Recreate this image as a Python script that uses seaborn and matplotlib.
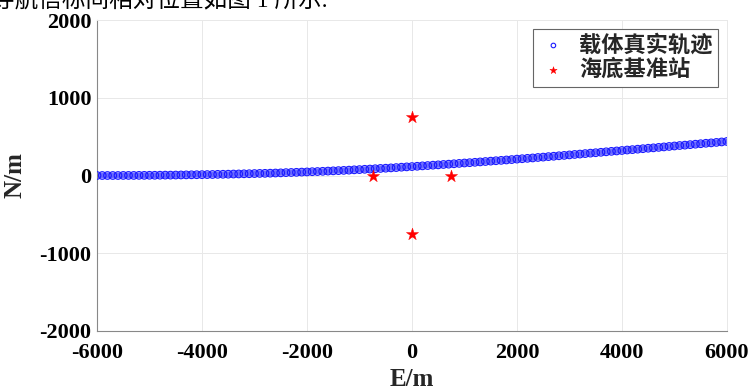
import numpy as np
import pandas as pd
import matplotlib
matplotlib.use("Agg")
import matplotlib.pyplot as plt
import seaborn as sns

# ----------------------------------------------------------
# Données
# ----------------------------------------------------------

# trajectoire : E de -6000 à 6000 m, pas de 100 m
traj_e = list(range(-6000, 6001, 100))
traj_n = [
    0, 0, 0, 0, 0, 1, 1, 1, 2, 2, 3, 3, 4, 5, 5, 6, 7, 8, 9, 10,
    11, 12, 13, 15, 16, 17, 19, 20, 22, 23, 25,
    27, 28, 30, 32, 34, 37, 39, 41, 44, 46, 49, 51, 54, 57, 60,
    63, 66, 69, 73, 76, 80, 83, 87, 91, 94, 98, 102, 107, 111, 115,
    119, 124, 128, 133, 137, 142, 146, 151, 156, 161, 165, 170, 175, 180, 185,
    190, 195, 200, 205, 211, 216, 221, 226, 232, 237, 243, 248, 254, 259, 265,
    271, 276, 282, 288, 293, 299, 305, 311, 316, 322, 328, 333, 339, 345, 351,
    356, 362, 368, 374, 380, 386, 391, 397, 403, 409, 415, 420, 426, 432, 438,
]

# stations de référence
station_e = [-750, 750, 0, 0]
station_n = [0, 0, 750, -750]

x_ticks = [-6000, -4000, -2000, 0, 2000, 4000, 6000]
y_ticks = [-2000, -1000, 0, 1000, 2000]

traj = pd.DataFrame({"E": traj_e, "N": traj_n})
stations = pd.DataFrame({"E": station_e, "N": station_n})

# ----------------------------------------------------------
# Figure
# ----------------------------------------------------------

sns.set_theme(style="whitegrid")
plt.rcParams["font.family"] = ["Liberation Serif", "Noto Sans CJK SC", "DejaVu Sans"]
plt.rcParams["axes.unicode_minus"] = False

fig = plt.figure(figsize=(7.49, 3.87), dpi=100)
ax = fig.add_axes([0.1295, 0.145, 0.841, 0.803])

# bande dense des cercles (points très rapprochés dans l'original)
sns.lineplot(data=traj, x="E", y="N", ax=ax, color="#3a3aff", linewidth=4.2,
             alpha=0.75, zorder=2, legend=False)
sns.scatterplot(data=traj, x="E", y="N", ax=ax, marker="o", s=30,
                facecolors="none", edgecolors="#1a1aff", linewidth=0.8,
                label="载体真实轨迹", zorder=3)
sns.scatterplot(data=stations, x="E", y="N", ax=ax, marker="*", s=85,
                color="red", edgecolor="red", linewidth=0.3,
                label="海底基准站", zorder=4)

ax.set_xlim(-6000, 6000)
ax.set_ylim(-2000, 2000)
ax.set_xticks(x_ticks)
ax.set_yticks(y_ticks)
ax.set_xticklabels([str(v) for v in x_ticks], fontweight="bold", fontsize=16)
ax.set_yticklabels([str(v) for v in y_ticks], fontweight="bold", fontsize=16)
ax.set_xlabel("E/m", fontweight="bold", fontsize=18, labelpad=3)
ax.set_ylabel("N/m", fontweight="bold", fontsize=18, labelpad=9)

ax.grid(True, color="#e8e8e8", linewidth=0.7)
for side in ["left", "bottom"]:
    ax.spines[side].set_color("#888888")
    ax.spines[side].set_linewidth(0.8)
for side in ["top", "right"]:
    ax.spines[side].set_color("#e8e8e8")
    ax.spines[side].set_linewidth(0.7)
ax.tick_params(direction="in", length=3, width=0.6, color="#888888",
               labelcolor="black")
ax.tick_params(axis="x", pad=9)
ax.tick_params(axis="y", pad=4)

leg = ax.legend(loc="upper right", fontsize=16, frameon=True, fancybox=False,
                borderpad=0.25, handletextpad=0.5, labelspacing=0.15,
                handlelength=1.3, borderaxespad=0.4, markerscale=0.6)
leg.get_frame().set_edgecolor("#666666")
leg.get_frame().set_linewidth(0.8)
leg.get_frame().set_alpha(1)
for t in leg.get_texts():
    t.set_fontweight("bold")

# ligne de texte du document, coupée en haut de l'image
fig.text(-0.012, 1.0, "导航信标间相对位置如图 1 所示.", fontsize=17,
         va="center", ha="left", color="black")

fig.savefig("out.png", dpi=100)
